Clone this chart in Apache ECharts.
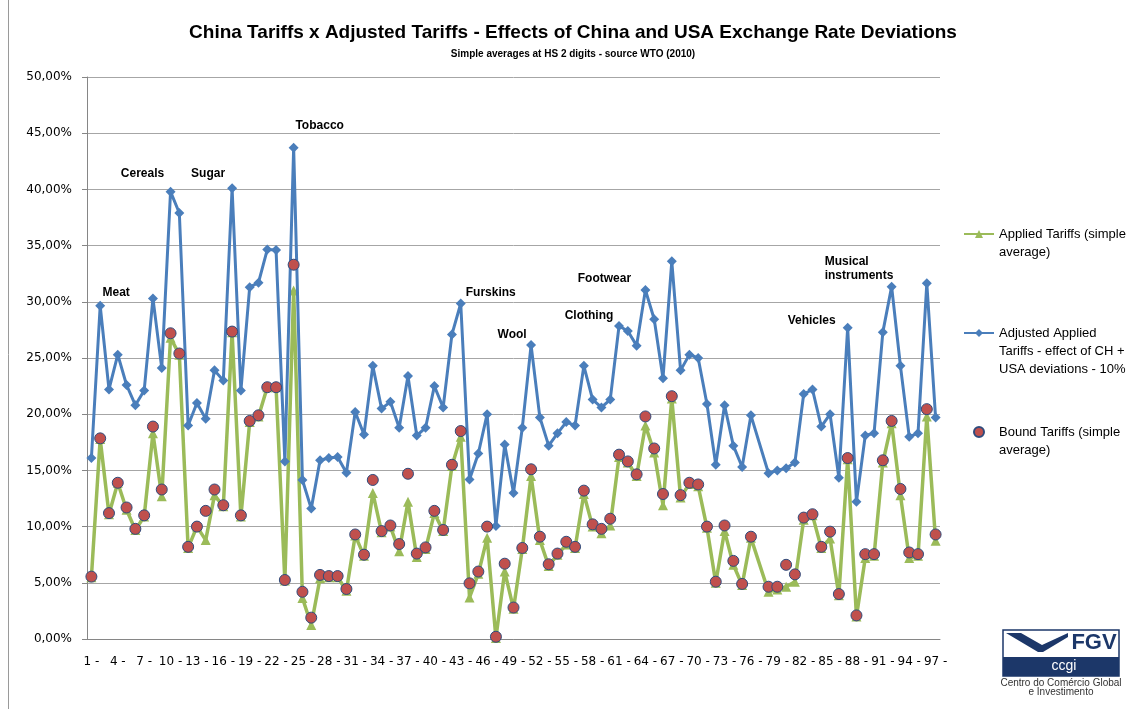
<!DOCTYPE html>
<html><head><meta charset="utf-8">
<script src="https://cdn.jsdelivr.net/npm/echarts@6/dist/echarts.min.js"></script>
<style>html,body{margin:0;padding:0;background:#fff}#c{width:1129px;height:709px}</style>
</head><body><div id="c"></div><script>
// HS 2-digit chapters (77 is reserved: no data)
const hsCodes = [1,2,3,4,5,6,7,8,9,10,11,12,13,14,15,16,17,18,19,20,21,22,23,24,25,26,27,28,29,30,
  31,32,33,34,35,36,37,38,39,40,41,42,43,44,45,46,47,48,49,50,51,52,53,54,55,56,57,58,59,60,
  61,62,63,64,65,66,67,68,69,70,71,72,73,74,75,76,77,78,79,80,81,82,83,84,85,86,87,88,89,90,
  91,92,93,94,95,96,97];
const tickLabels = hsCodes.map(c => c + ' -');

// Applied Tariffs (simple average), %
const applied = [5.5,17.8,11.1,13.9,11.5,9.7,10.9,18.3,12.7,26.8,
  25.3,8.1,10.0,8.8,12.8,11.8,27.3,10.9,19.3,19.8,
  22.4,22.4,5.2,31.0,3.65,1.25,5.4,5.5,5.5,4.3,
  9.2,7.4,13.0,9.5,10.0,7.8,12.2,7.3,8.0,11.2,
  9.6,15.4,18.0,3.7,5.8,9.0,0.1,6.0,2.7,8.0,
  14.5,8.8,6.5,7.5,8.4,8.1,12.9,10.0,9.4,10.1,
  16.2,15.7,14.5,19.0,16.6,11.9,21.4,12.6,13.8,13.6,
  9.9,5.0,9.6,6.6,4.8,9.0,null,4.2,4.4,4.65,
  5.1,10.6,11.0,8.1,8.95,3.9,16.0,2.0,7.2,7.4,
  15.7,19.2,12.8,7.2,7.4,19.8,8.75];

// Adjusted Applied Tariffs - effect of CH + USA deviations - 10%, %
const adjusted = [16.1,29.65,22.2,25.3,22.6,20.8,22.1,30.3,24.1,39.8,
  37.9,19.0,21.0,19.6,23.9,23.0,40.1,22.1,31.3,31.7,
  34.65,34.6,15.8,43.7,14.15,11.6,15.9,16.1,16.2,14.8,
  20.2,18.2,24.3,20.5,21.1,18.8,23.4,18.1,18.8,22.5,
  20.6,27.1,29.85,14.2,16.5,20.0,10.05,17.3,13.0,18.8,
  26.15,19.7,17.2,18.3,19.3,19.0,24.3,21.3,20.6,21.3,
  27.85,27.4,26.1,31.05,28.45,23.2,33.6,23.9,25.3,25.0,
  20.9,15.5,20.8,17.2,15.3,19.9,null,14.75,15.0,15.2,
  15.7,21.8,22.2,18.9,20.0,14.35,27.7,12.2,18.1,18.3,
  27.3,31.35,24.3,18.0,18.3,31.65,19.7];

// Bound Tariffs (simple average), %
const bound = [5.55,17.85,11.2,13.9,11.7,9.8,11.0,18.9,13.3,27.2,
  25.4,8.2,10.0,11.4,13.3,11.9,27.35,11.0,19.4,19.9,
  22.4,22.4,5.25,33.3,4.2,1.9,5.7,5.6,5.6,4.45,
  9.3,7.5,14.15,9.6,10.1,8.45,14.7,7.6,8.15,11.4,
  9.7,15.5,18.5,4.95,6.0,10.0,0.2,6.7,2.8,8.1,
  15.1,9.1,6.65,7.6,8.65,8.2,13.2,10.2,9.8,10.7,
  16.4,15.8,14.65,19.8,16.95,12.9,21.6,12.8,13.9,13.75,
  10.0,5.1,10.1,6.95,4.9,9.1,null,4.65,4.65,6.6,
  5.75,10.8,11.1,8.2,9.55,4.0,16.1,2.1,7.55,7.55,
  15.9,19.4,13.35,7.7,7.55,20.45,9.3];

// Sector annotations (HS chapter -> text)
const annotations = [
  {hs: 2, text: 'Meat'}, {hs: 10, text: 'Cereals'}, {hs: 17, text: 'Sugar'},
  {hs: 24, text: 'Tobacco'}, {hs: 43, text: 'Furskins'}, {hs: 51, text: 'Wool'},
  {hs: 61, text: 'Clothing'}, {hs: 64, text: 'Footwear'}, {hs: 87, text: 'Vehicles'},
  {hs: 92, text: 'Musical\ninstruments'}
];
const annotationOffsets = {2:[16,-13],10:[-28,-18],17:[-24,-15],24:[26,-22],43:[30,-11],
  51:[-19,-10],61:[-30,-10],64:[-41,-11],87:[-36,-7],92:[-67,-18]};

const seriesNames = ['Applied Tariffs (simple average)',
  'Adjusted Applied Tariffs - effect of CH + USA deviations - 10%',
  'Bound Tariffs (simple average)'];
const legendLines = {};
legendLines[seriesNames[0]] = ['Applied Tariffs (simple', 'average)'];
legendLines[seriesNames[1]] = ['Adjusted Applied', 'Tariffs - effect of CH +', 'USA deviations - 10%'];
legendLines[seriesNames[2]] = ['Bound Tariffs (simple', 'average)'];

const chart = echarts.init(document.getElementById('c'), null, {renderer: 'canvas'});
const navy = '#1c3769';
const option = {
  backgroundColor: '#fff',
  animation: false,
  title: [
    {text: 'China Tariffs x Adjusted Tariffs - Effects of China and USA Exchange Rate Deviations',
     left: 573, textAlign: 'center', top: 23, padding: 0,
     textStyle: {fontFamily: 'Liberation Sans', fontWeight: 'bold', fontSize: 19, color: '#000'}},
    {text: 'Simple averages at HS 2 digits - source WTO (2010)',
     left: 573, textAlign: 'center', top: 49, padding: 0,
     textStyle: {fontFamily: 'Liberation Sans', fontWeight: 'bold', fontSize: 10, color: '#000'}}
  ],
  legend: {
    orient: 'vertical', left: 958, top: 202, itemWidth: 30, itemHeight: 10, itemGap: 27,
    data: seriesNames,
    formatter: name => { const l = legendLines[name]; return '\n'.repeat(l.length - 1) + l.join('\n'); },
    textStyle: {fontFamily: 'Liberation Sans', fontSize: 13, lineHeight: 18, color: '#000'}
  },
  grid: {left: 87, right: 189, top: 77, bottom: 70, containLabel: false},
  xAxis: {
    type: 'category', data: tickLabels, boundaryGap: true,
    axisLine: {lineStyle: {color: '#868686'}},
    axisTick: {interval: 0, length: 5, lineStyle: {color: '#868686'}},
    axisLabel: {interval: 2, margin: 17, fontFamily: 'DejaVu Sans', fontSize: 12, color: '#000'}
  },
  yAxis: {
    type: 'value', min: 0, max: 50, interval: 5,
    axisLine: {show: true, lineStyle: {color: '#868686'}},
    axisTick: {show: true, length: 5, lineStyle: {color: '#868686'}},
    splitLine: {lineStyle: {color: '#a6a6a6', width: 1}},
    axisLabel: {margin: 15, fontFamily: 'DejaVu Sans', fontSize: 12, color: '#000',
      formatter: v => v.toFixed(2).replace('.', ',') + '%'}
  },
  series: [
    {name: seriesNames[0], type: 'line', data: applied, connectNulls: true, showAllSymbol: true,
     symbol: 'triangle', symbolSize: 10, z: 2,
     lineStyle: {color: '#9bbb59', width: 3.5}, itemStyle: {color: '#9bbb59'}},
    {name: seriesNames[1], type: 'line', data: adjusted, connectNulls: true, showAllSymbol: true,
     symbol: 'diamond', symbolSize: 10, z: 3,
     lineStyle: {color: '#4a7ebb', width: 3}, itemStyle: {color: '#4a7ebb'},
     markPoint: {
       symbol: 'circle', symbolSize: 0, silent: true,
       label: {show: true, position: 'inside', fontFamily: 'Liberation Sans', fontWeight: 'bold',
         fontSize: 12, color: '#000', lineHeight: 14},
       data: annotations.map(a => {
         const i = hsCodes.indexOf(a.hs);
         const item = {coord: [i, adjusted[i]], value: a.text,
           label: {formatter: a.text, offset: annotationOffsets[a.hs]}};
         if (a.hs === 92) item.label.align = 'left';
         return item;
       })
     }},
    {name: seriesNames[2], type: 'scatter', data: bound, symbol: 'circle', symbolSize: 11, z: 4,
     itemStyle: {color: '#c0504d', borderColor: '#2f4b7c', borderWidth: 1, opacity: 1}}
  ],
  graphic: [
    {type: 'line', shape: {x1: 8.5, y1: 0, x2: 8.5, y2: 709}, style: {stroke: '#9a9a9a', lineWidth: 1}},
    {type: 'rect', shape: {x: 1003, y: 630, width: 116, height: 46},
     style: {fill: '#fff', stroke: navy, lineWidth: 1.5}},
    {type: 'rect', shape: {x: 1003, y: 657, width: 116, height: 19}, style: {fill: navy}},
    {type: 'polygon', shape: {points: [[1006,633],[1021,633],[1042,645],[1068,633],[1068,637],[1043,652],[1038,652]]},
     style: {fill: navy}},
    {type: 'text', x: 1094, y: 643, style: {text: 'FGV', fill: navy, font: 'bold 22px Liberation Sans',
     align: 'center', verticalAlign: 'middle'}},
    {type: 'text', x: 1064, y: 666, style: {text: 'ccgi', fill: '#fff', font: '14px Liberation Sans',
     align: 'center', verticalAlign: 'middle'}},
    {type: 'text', x: 1061, y: 683, style: {text: 'Centro do Comércio Global', fill: '#333',
     font: '10px Liberation Sans', align: 'center', verticalAlign: 'middle'}},
    {type: 'text', x: 1061, y: 692, style: {text: 'e Investimento', fill: '#333',
     font: '10px Liberation Sans', align: 'center', verticalAlign: 'middle'}}
  ]
};
chart.setOption(option);
</script></body></html>
